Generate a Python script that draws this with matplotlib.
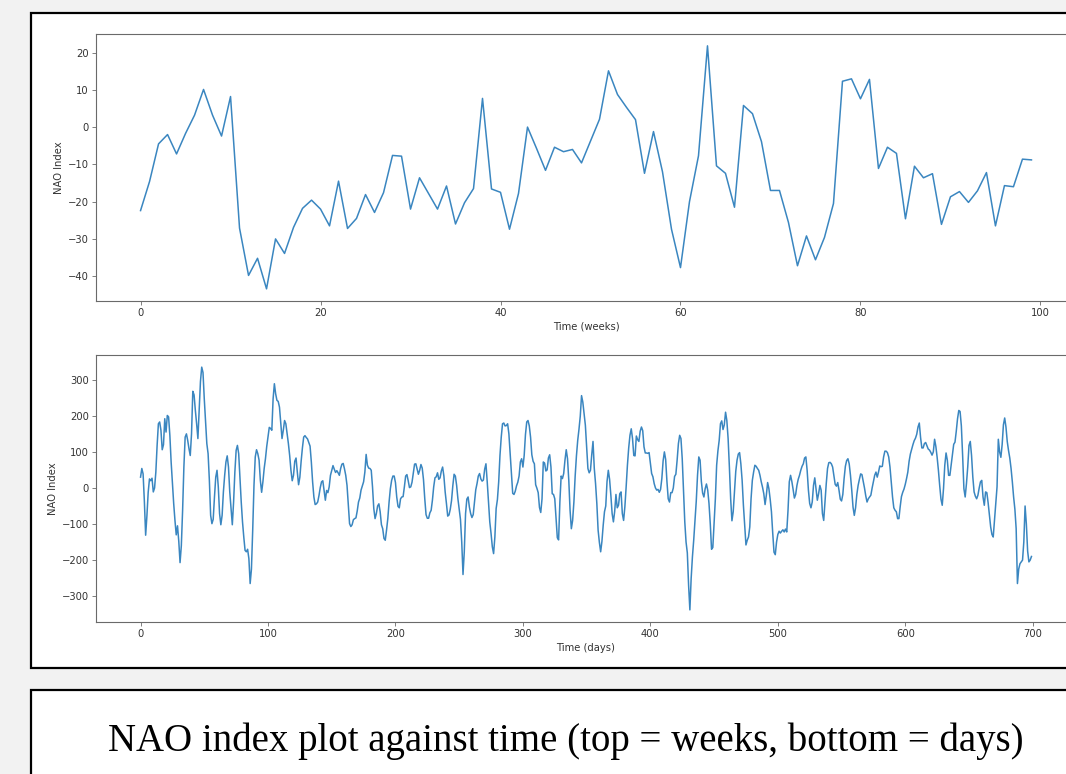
import matplotlib
matplotlib.use("Agg")
import matplotlib.pyplot as plt
from matplotlib.patches import Rectangle

# ---------------- data ----------------
weeks_nao = [
    -22.4, -14.6, -4.5, -2.0, -7.2, -1.7, 3.2, 10.1, 3.2, -2.4,
    8.2, -27.1, -39.8, -35.2, -43.4, -30.0, -33.9, -26.9, -21.8, -19.6,
    -22.0, -26.5, -14.5, -27.2, -24.5, -18.1, -22.9, -17.6, -7.6, -7.8,
    -22.0, -13.6, -17.8, -22.0, -15.8, -26.0, -20.3, -16.5, 7.7, -16.6,
    -17.5, -27.4, -17.8, 0.0, -5.7, -11.6, -5.4, -6.6, -6.0, -9.6,
    -3.75, 2.1, 15.1, 8.75, 5.3, 2.0, -12.4, -1.2, -12.0, -27.4,
    -37.7, -20.0, -7.7, 21.8, -10.4, -12.4, -21.5, 5.8, 3.6, -3.9,
    -17.0, -17.0, -25.6, -37.2, -29.2, -35.6, -29.6, -20.5, 12.3, 12.95,
    7.6, 12.8, -11.1, -5.4, -7.05, -24.6, -10.5, -13.6, -12.5, -26.1,
    -18.7, -17.3, -20.2, -17.1, -12.2, -26.5, -15.7, -16.0, -8.6, -8.8,
]

days_nao = [
    30, 54, 39, -37, -131, -77, -12, 25, 20, 27,
    -11, 0, 44, 118, 178, 183, 160, 106, 120, 192,
    155, 201, 197, 146, 72, 12, -43, -90, -130, -105,
    -148, -207, -160, -62, 58, 141, 150, 132, 109, 90,
    150, 268, 258, 215, 178, 137, 215, 295, 335, 320,
    247, 183, 123, 95, 21, -76, -99, -87, -25, 30,
    49, 3, -71, -102, -76, -11, 35, 72, 89, 58,
    -11, -57, -102, -39, 44, 104, 118, 95, 26, -39,
    -94, -136, -173, -177, -170, -196, -265, -225, -117, 7,
    86, 106, 95, 77, 21, -12, 17, 54, 81, 115,
    142, 168, 165, 160, 247, 289, 261, 243, 240, 224,
    181, 137, 160, 187, 178, 150, 123, 90, 49, 20,
    35, 74, 83, 44, 9, 30, 74, 111, 141, 145,
    140, 136, 126, 116, 72, 17, -25, -46, -44, -39,
    -21, 1, 17, 20, -6, -34, -7, -13, 3, 35,
    49, 62, 52, 43, 48, 42, 35, 54, 66, 68,
    53, 35, 7, -48, -99, -107, -102, -88, -85, -83,
    -64, -39, -28, -6, 6, 17, 44, 93, 63, 55,
    54, 49, 3, -57, -85, -71, -50, -44, -66, -102,
    -113, -140, -145, -117, -85, -39, -2, 21, 33, 33,
    15, -25, -51, -55, -30, -25, -24, 3, 33, 37,
    20, 1, 3, 16, 42, 66, 67, 52, 38, 49,
    65, 55, 23, -30, -74, -84, -84, -69, -62, -34,
    3, 28, 31, 42, 24, 28, 47, 58, 33, -11,
    -43, -78, -75, -59, -35, 6, 38, 33, 7, -30,
    -59, -87, -150, -240, -177, -71, -31, -25, -53, -71,
    -82, -74, -39, -5, 12, 33, 40, 25, 19, 22,
    52, 67, 17, -39, -94, -126, -163, -182, -136, -57,
    -32, 17, 90, 141, 178, 180, 172, 173, 178, 150,
    95, 40, -15, -18, -9, 6, 16, 33, 72, 81,
    58, 90, 148, 183, 187, 172, 141, 92, 74, 67,
    9, -1, -13, -54, -68, -30, 72, 69, 47, 50,
    83, 92, 58, -16, -18, -30, -85, -138, -144, -39,
    33, 26, 40, 77, 106, 81, 21, -62, -113, -90,
    -39, 33, 89, 132, 163, 199, 256, 238, 205, 174,
    114, 54, 42, 49, 92, 129, 54, 12, -43, -117,
    -151, -177, -148, -103, -66, -50, 18, 49, 24, -20,
    -71, -94, -65, -18, -55, -48, -16, -11, -71, -90,
    -52, 3, 63, 111, 146, 164, 137, 90, 89, 144,
    134, 129, 157, 169, 159, 114, 97, 97, 96, 98,
    70, 40, 31, 12, 0, -6, -4, -12, -4, 26,
    75, 100, 79, 18, -30, -39, -13, -13, 0, 32,
    38, 77, 123, 146, 137, 81, -6, -94, -150, -180,
    -270, -338, -251, -191, -145, -90, -37, 35, 86, 77,
    18, -14, -25, -2, 11, -6, -43, -99, -170, -165,
    -99, -30, 63, 103, 132, 178, 186, 162, 175, 210,
    187, 137, 58, -30, -91, -66, -11, 46, 77, 94,
    98, 67, 21, -48, -103, -158, -145, -136, -108, -30,
    21, 44, 63, 60, 54, 49, 35, 17, 2, -16,
    -46, -20, 15, -2, -31, -66, -125, -178, -185, -150,
    -129, -120, -125, -120, -116, -122, -114, -122, -62, 17,
    35, 18, -4, -28, -18, 7, 24, 35, 49, 60,
    67, 83, 86, 49, -6, -43, -55, -39, 7, 28,
    -2, -34, -16, 7, -6, -71, -90, -39, 12, 54,
    70, 71, 67, 58, 33, 10, 5, 15, -6, -31,
    -36, -18, 26, 60, 76, 81, 67, 35, -6, -53,
    -76, -55, -18, 7, 24, 39, 37, 18, 0, -22,
    -39, -30, -25, -20, 0, 18, 35, 44, 30, 44,
    61, 59, 60, 86, 102, 102, 98, 86, 58, 17,
    -25, -55, -62, -66, -85, -85, -52, -24, -12, -3,
    10, 26, 44, 74, 94, 107, 120, 131, 138, 149,
    169, 180, 140, 111, 111, 123, 126, 117, 108, 105,
    99, 91, 100, 135, 115, 85, 49, 7, -31, -48,
    -2, 63, 97, 77, 35, 35, 63, 90, 121, 127,
    157, 192, 215, 212, 172, 90, -2, -25, 12, 58,
    118, 129, 90, 30, -11, -23, -30, -20, 0, 17,
    21, -25, -48, -11, -13, -41, -76, -108, -129, -136,
    -90, -48, 3, 135, 100, 85, 120, 175, 194, 169,
    129, 104, 83, 54, 17, -25, -59, -113, -265, -225,
    -210, -205, -200, -150, -50, -100, -175, -205, -200, -190,
]

week_ticks = [0, 20, 40, 60, 80, 100]
week_yticks = [-40, -30, -20, -10, 0, 10, 20]
day_ticks = [0, 100, 200, 300, 400, 500, 600, 700]
day_yticks = [-300, -200, -100, 0, 100, 200, 300]

title_text = "NAO index plot against time (top = weeks, bottom = days)"

# ---------------- layout ----------------
W, H = 1066, 774
fig = plt.figure(figsize=(W / 100, H / 100), dpi=100, facecolor="#f2f2f2")


def fx(px):
    return px / W


def fy(py):
    return 1 - py / H


# outer framed panel (white, black border)
fig.patches.append(Rectangle((fx(31), fy(668)), fx(1100 - 31), (668 - 13) / H,
                             transform=fig.transFigure, facecolor="white",
                             edgecolor="black", linewidth=1.6, zorder=-5))
# caption panel
fig.patches.append(Rectangle((fx(31), fy(800)), fx(1100 - 31), (800 - 690) / H,
                             transform=fig.transFigure, facecolor="white",
                             edgecolor="black", linewidth=1.6, zorder=-5))

line_color = "#3a86c0"
fs = 7.2


def style(ax):
    for s in ax.spines.values():
        s.set_color("#6a6a6a")
        s.set_linewidth(0.8)
    ax.tick_params(axis="both", labelsize=fs, colors="#6a6a6a", labelcolor="#333333",
                   length=2.6, width=0.6, pad=2.6)
    ax.set_facecolor("white")


ax1 = fig.add_axes([fx(96), fy(301), fx(1076 - 96), (301 - 33.7) / H])
ax1.plot(range(len(weeks_nao)), weeks_nao, color=line_color, linewidth=1.1)
ax1.set_xticks(week_ticks)
ax1.set_yticks(week_yticks)
ax1.set_xlabel("Time (weeks)", fontsize=fs, color="#333333", labelpad=2.5)
ax1.set_ylabel("NAO Index", fontsize=fs, color="#333333", labelpad=2.5)
style(ax1)

ax2 = fig.add_axes([fx(96), fy(622), fx(1076 - 96), (622 - 355) / H])
ax2.plot(range(len(days_nao)), days_nao, color=line_color, linewidth=1.1)
ax2.set_xticks(day_ticks)
ax2.set_yticks(day_yticks)
ax2.set_xlabel("Time (days)", fontsize=fs, color="#333333", labelpad=2.5)
ax2.set_ylabel("NAO Index", fontsize=fs, color="#333333", labelpad=2.5)
style(ax2)

fig.text(fx(566), fy(741), title_text, ha="center", va="center",
         fontsize=28, family="Liberation Serif", color="black")

fig.savefig("out.png", dpi=100, facecolor=fig.get_facecolor())
